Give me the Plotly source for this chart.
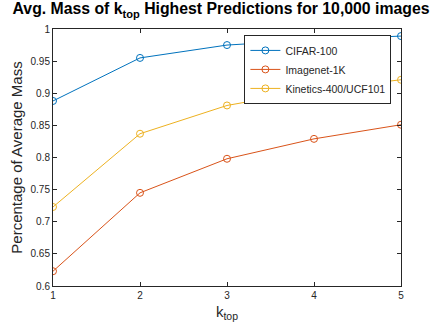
import plotly.graph_objects as go

k_top = [1, 2, 3, 4, 5]
cifar100 = [0.888, 0.955, 0.975, 0.983, 0.989]
imagenet1k = [0.623, 0.745, 0.798, 0.829, 0.851]
kinetics = [0.723, 0.837, 0.881, 0.905, 0.921]
series_names = ["CIFAR-100", "Imagenet-1K", "Kinetics-400/UCF101"]
colors = ["#0072BD", "#D95319", "#EDB120"]
y_ticks = [0.6, 0.65, 0.7, 0.75, 0.8, 0.85, 0.9, 0.95, 1]
y_tick_text = ["0.6", "0.65", "0.7", "0.75", "0.8", "0.85", "0.9", "0.95", "1"]

fig = go.Figure()
for name, vals, c in zip(series_names, [cifar100, imagenet1k, kinetics], colors):
    fig.add_trace(go.Scatter(
        x=k_top, y=vals, name=name, mode="lines+markers",
        line=dict(color=c, width=1),
        marker=dict(symbol="circle-open", size=7, color=c, line=dict(width=1, color=c)),
    ))

FONT = "Liberation Sans, Arial"
axis_common = dict(
    showline=True, linecolor="#262626", linewidth=1, mirror="ticks",
    ticks="inside", ticklen=4, tickcolor="#262626", showgrid=False, zeroline=False,
    automargin=False,
    tickfont=dict(family=FONT, size=10, color="#262626"),
)

fig.update_layout(
    width=442, height=334,
    margin=dict(l=53, r=41, t=29, b=48, autoexpand=False),
    paper_bgcolor="white", plot_bgcolor="white",
    title=dict(
        text="<b>Avg. Mass of k<sub>top</sub> Highest Predictions for 10,000 images</b>",
        x=0.5, xanchor="center", y=0.99, yanchor="top",
        font=dict(family=FONT, size=15.8, color="black"),
    ),
    xaxis=dict(range=[1, 5], tickvals=k_top, ticktext=[str(k) for k in k_top],
               title=dict(text="k<sub>top</sub>", standoff=6,
                          font=dict(family=FONT, size=15, color="#262626")),
               **axis_common),
    yaxis=dict(range=[0.6, 1], tickvals=y_ticks, ticktext=y_tick_text,
               title=dict(text="Percentage of Average Mass", standoff=4,
                          font=dict(family=FONT, size=15, color="#262626")),
               **axis_common),
    legend=dict(
        x=0.55, y=0.977, xanchor="left", yanchor="top",
        bgcolor="white", bordercolor="#262626", borderwidth=1,
        font=dict(family=FONT, size=10.5, color="#262626"),
        tracegroupgap=0, itemwidth=30,
    ),
    showlegend=True,
)

fig.write_html("out.html", config={"displayModeBar": False},
               post_script="document.body.style.margin='0';")
